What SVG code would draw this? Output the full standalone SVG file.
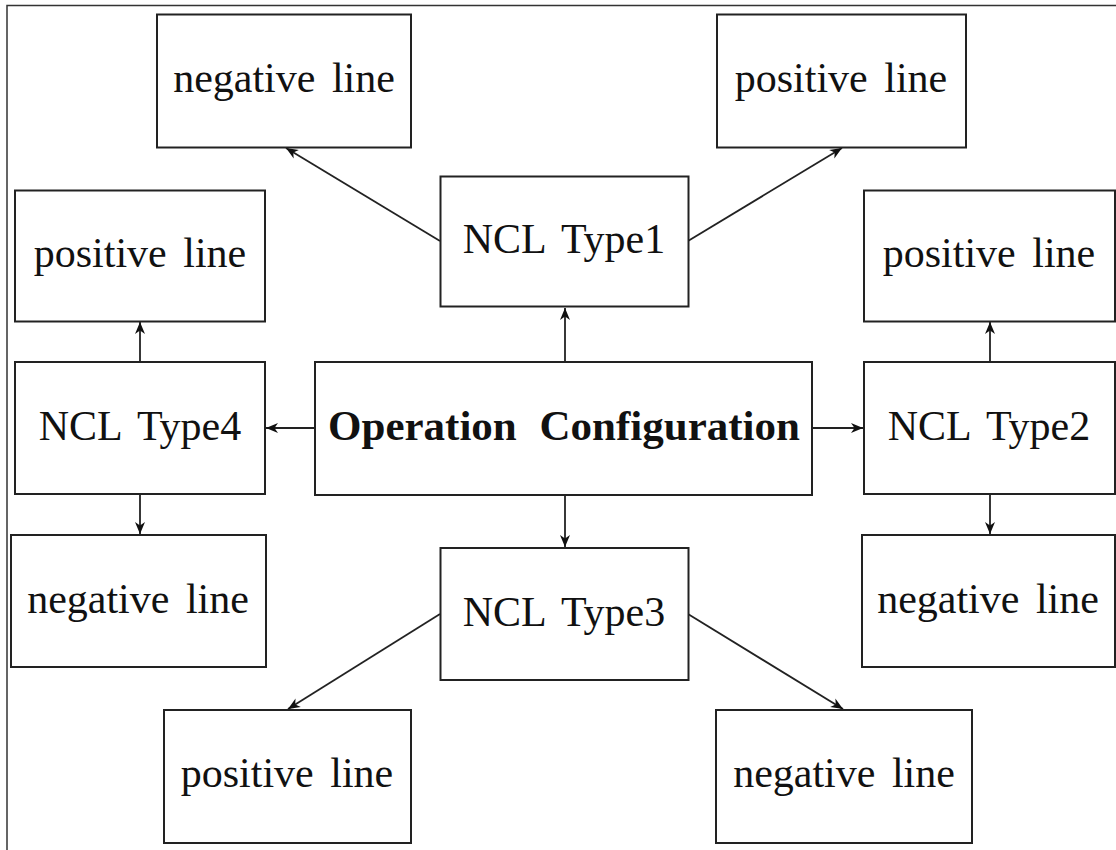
<svg xmlns="http://www.w3.org/2000/svg" width="1116" height="850" viewBox="0 0 1116 850">
  <style>
    .box { fill: #fff; stroke: #222; stroke-width: 2; }
    .lbl { font-family: "Liberation Serif", "Times New Roman", serif; font-size: 42px; fill: #111; text-anchor: middle; word-spacing: 6px; }
    .bold { font-weight: bold; font-size: 43px; word-spacing: 12px; }
    .edge { stroke: #222; stroke-width: 1.8; fill: none; marker-end: url(#tip); }
    .frame { stroke: #333; stroke-width: 1.5; fill: none; }
  </style>
  <defs>
    <marker id="tip" markerUnits="userSpaceOnUse" markerWidth="16" markerHeight="12" viewBox="-13 -6 14 12" refX="0" refY="0" orient="auto">
      <path d="M0,0 L-12,-5 L-8.5,0 L-12,5 Z" fill="#111"/>
    </marker>
  </defs>
  <rect width="1116" height="850" fill="#fff"/>
  <path class="frame" d="M7,850 V5.5 H1116"/>

  <g id="edges">
    <line class="edge" x1="565" y1="362" x2="565" y2="308"/>
    <line class="edge" x1="440" y1="241" x2="286" y2="148"/>
    <line class="edge" x1="688" y1="241" x2="842" y2="148"/>
    <line class="edge" x1="315" y1="428" x2="266" y2="428"/>
    <line class="edge" x1="812" y1="428" x2="863" y2="428"/>
    <line class="edge" x1="565" y1="495" x2="565" y2="547"/>
    <line class="edge" x1="140" y1="362" x2="140" y2="322"/>
    <line class="edge" x1="140" y1="494" x2="140" y2="534"/>
    <line class="edge" x1="990" y1="362" x2="990" y2="322"/>
    <line class="edge" x1="990" y1="494" x2="990" y2="534"/>
    <line class="edge" x1="440" y1="614" x2="288" y2="709"/>
    <line class="edge" x1="688" y1="614" x2="843" y2="709"/>
  </g>

  <g id="op-config">
    <rect class="box" x="315" y="362" width="497" height="133"/>
    <text class="lbl bold" x="564" y="440">Operation Configuration</text>
  </g>
  <g id="ncl-type1">
    <rect class="box" x="440.5" y="176.5" width="248" height="130"/>
    <text class="lbl" x="564" y="253">NCL Type1</text>
  </g>
  <g id="ncl-type2">
    <rect class="box" x="864" y="362" width="251" height="132"/>
    <text class="lbl" x="989" y="440">NCL Type2</text>
  </g>
  <g id="ncl-type3">
    <rect class="box" x="440.5" y="548" width="248" height="132"/>
    <text class="lbl" x="564" y="626">NCL Type3</text>
  </g>
  <g id="ncl-type4">
    <rect class="box" x="15" y="362" width="250" height="132"/>
    <text class="lbl" x="140" y="440">NCL Type4</text>
  </g>

  <g id="t1-negative">
    <rect class="box" x="157" y="14.5" width="254" height="133"/>
    <text class="lbl" x="284" y="92">negative line</text>
  </g>
  <g id="t1-positive">
    <rect class="box" x="717" y="14.5" width="249" height="133"/>
    <text class="lbl" x="841" y="92">positive line</text>
  </g>
  <g id="t4-positive">
    <rect class="box" x="15" y="190.5" width="250" height="131"/>
    <text class="lbl" x="140" y="267">positive line</text>
  </g>
  <g id="t4-negative">
    <rect class="box" x="11" y="535" width="255" height="132"/>
    <text class="lbl" x="138" y="613">negative line</text>
  </g>
  <g id="t2-positive">
    <rect class="box" x="864" y="190.5" width="251" height="131"/>
    <text class="lbl" x="989" y="267">positive line</text>
  </g>
  <g id="t2-negative">
    <rect class="box" x="862" y="535" width="253" height="132"/>
    <text class="lbl" x="988" y="613">negative line</text>
  </g>
  <g id="t3-positive">
    <rect class="box" x="164" y="710" width="247" height="133"/>
    <text class="lbl" x="287" y="787">positive line</text>
  </g>
  <g id="t3-negative">
    <rect class="box" x="716" y="710" width="256" height="133"/>
    <text class="lbl" x="844" y="787">negative line</text>
  </g>
</svg>
